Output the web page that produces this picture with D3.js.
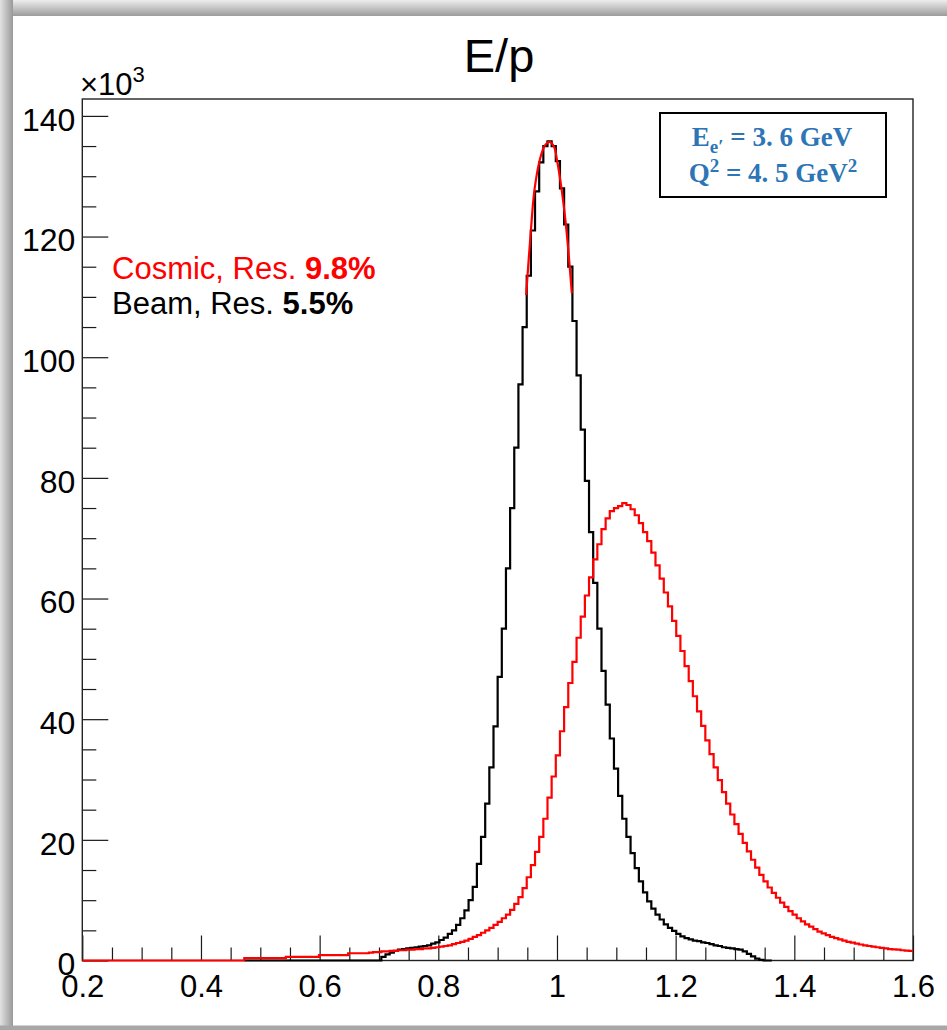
<!DOCTYPE html>
<html>
<head>
<meta charset="utf-8">
<script src="https://cdn.jsdelivr.net/npm/d3@7"></script>
<style>
  html, body { margin: 0; padding: 0; background: #fff; }
  svg { display: block; }
</style>
</head>
<body>
<svg id="chart" width="947" height="1030"></svg>
<script>
// E/p distributions, bin contents in units of 10^3 entries
const xMin = 0.2, xMax = 1.6, binWidth = 0.007;
const yMax = 142.8;

const xTickLabels = [0.2, 0.4, 0.6, 0.8, 1.0, 1.2, 1.4, 1.6];
const yTickLabels = [0, 20, 40, 60, 80, 100, 120, 140];

// Cosmic-calibrated sample (red), bins 0..199
const cosmicFirstBin = 0;
const cosmicCounts = [
  0,0,0,0,0,0,0,0,0,0,
  0,0,0,0,0,0,0,0,0,0,
  0,0,0,0,0,0,0,0,0,0,
  0,0,0,0,0,0,0,0,0,
  0.4,0.4,0.4,0.4,0.4,0.4,0.4,0.4,0.4,0.4,
  0.6,0.6,0.6,0.6,0.6,0.6,0.6,0.6,
  0.9,0.9,0.9,0.9,0.9,0.9,0.9,
  1.2,1.2,1.2,1.2,1.2,
  1.3,1.4,1.4,1.5,1.5,1.6,1.6,1.7,1.7,1.8,
  1.8,1.9,1.9,2.0,2.0,2.1,2.2,2.3,2.4,2.5,
  2.7,2.9,3.1,3.3,3.6,3.9,4.2,4.6,5.0,5.4,
  5.9,6.4,7.0,7.6,8.4,9.4,10.5,12.0,13.8,15.8,
  18.0,20.5,23.5,27.0,30.5,34.0,38.0,42.0,46.0,49.5,
  53.5,57.0,60.5,63.5,66.5,69.0,71.5,73.3,74.5,75.0,
  75.3,75.8,75.5,74.8,73.8,72.5,71.0,69.5,67.6,65.5,
  63.3,61.0,58.7,56.3,53.8,51.3,48.8,46.3,43.8,41.3,
  38.9,36.5,34.2,32.0,29.9,27.9,26.0,24.2,22.6,21.0,
  19.5,18.1,16.7,15.4,14.2,13.1,12.1,11.2,10.4,9.6,
  8.9,8.2,7.6,7.0,6.5,6.0,5.6,5.2,4.8,4.5,
  4.2,3.9,3.7,3.5,3.3,3.1,2.95,2.8,2.65,2.5,
  2.4,2.3,2.2,2.1,2.0,1.9,1.85,1.8,1.7,1.65,
  1.6
];

// Beam sample (black), bins 39..165
const beamFirstBin = 39;
const beamCounts = [
  0,0,0,0,0,0,0,0,0,0,
  0,0,0,0,0,0,0,0,0,0,
  0,0,0,0,0,0,0,0,0,0,
  0,0,0,
  0.6,1.0,1.3,1.6,1.8,1.9,2.0,2.1,2.2,2.3,
  2.4,2.5,2.8,3.0,3.4,3.8,4.4,5.0,5.9,7.0,
  8.3,10.0,12.2,16.0,20.5,26.0,32.0,38.8,47.0,55.0,
  65.0,75.0,85.0,95.5,105.0,113.5,121.0,127.5,132.3,135.0,
  135.8,135.0,132.5,128.0,122.0,115.0,106.0,97.0,88.0,79.5,
  71.0,62.6,55.0,48.0,42.4,36.8,31.8,27.3,23.5,20.5,
  17.8,15.3,13.1,11.3,9.8,8.6,7.6,6.8,6.0,5.4,
  4.9,4.4,4.0,3.7,3.5,3.3,3.2,3.0,2.9,2.7,
  2.5,2.4,2.2,2.1,2.0,1.9,1.8,1.5,1.1,0.7,
  0.3,0.1,0,0
];

// Gaussian fit over the beam peak, sampled along the curve
const beamFitX = [0.948, 0.956, 0.962, 0.971, 0.979, 0.987, 0.995, 1.000, 1.008, 1.016, 1.025];
const beamFitY = [110.3, 121.0, 127.7, 132.7, 135.0, 135.7, 134.9, 132.7, 127.7, 121.0, 110.6];

const legendLabels = ["Cosmic, Res. ", "Beam, Res. "];
const legendRes = ["9.8%", "5.5%"];
const legendColors = ["#ff0000", "#000000"];

// ---- layout ----
const W = 947, H = 1030;
const frame = { left: 82.3, right: 913, top: 99, bottom: 960.5 };
const font = "'Liberation Sans', Arial, Helvetica, sans-serif";

const svg = d3.select("#chart");

// soft grey picture border
const defs = svg.append("defs");
const gTop = defs.append("linearGradient").attr("id", "bTop").attr("x1", 0).attr("y1", 0).attr("x2", 0).attr("y2", 1);
gTop.append("stop").attr("offset", "0%").attr("stop-color", "#ededed");
gTop.append("stop").attr("offset", "100%").attr("stop-color", "#9c9c9c");
const gLeft = defs.append("linearGradient").attr("id", "bLeft").attr("x1", 0).attr("y1", 0).attr("x2", 1).attr("y2", 0);
gLeft.append("stop").attr("offset", "0%").attr("stop-color", "#e2e2e2");
gLeft.append("stop").attr("offset", "100%").attr("stop-color", "#999999");

svg.append("rect").attr("x", 0).attr("y", 0).attr("width", W).attr("height", H).attr("fill", "#fff");
svg.append("rect").attr("x", 0).attr("y", 0).attr("width", W).attr("height", 16).attr("fill", "url(#bTop)");
svg.append("rect").attr("x", 0).attr("y", 0).attr("width", 13).attr("height", H).attr("fill", "url(#bLeft)");
svg.append("rect").attr("x", 0).attr("y", 1025.5).attr("width", W).attr("height", 4.5).attr("fill", "#a7a7a7");

// ---- scales ----
const x = d3.scaleLinear().domain([xMin, xMax]).range([frame.left, frame.right]);
const y = d3.scaleLinear().domain([0, yMax]).range([frame.bottom, frame.top]);

// ---- axes ----
const minorX = d3.range(xMin, xMax + 1e-9, 0.05).filter(v => !xTickLabels.some(t => Math.abs(t - v) < 1e-6));
const minorY = d3.range(0, yMax, 5).filter(v => v % 20 !== 0);

const axisColor = "#1a1a1a";

const gxMinor = svg.append("g").attr("transform", `translate(0,${frame.bottom})`)
  .call(d3.axisBottom(x).tickValues(minorX).tickSize(-13).tickFormat(""));
const gx = svg.append("g").attr("transform", `translate(0,${frame.bottom})`)
  .call(d3.axisBottom(x).tickValues(xTickLabels).tickSize(-25).tickFormat(d3.format("~g")));
const gyMinor = svg.append("g").attr("transform", `translate(${frame.left},0)`)
  .call(d3.axisLeft(y).tickValues(minorY).tickSize(-14).tickFormat(""));
const gy = svg.append("g").attr("transform", `translate(${frame.left},0)`)
  .call(d3.axisLeft(y).tickValues(yTickLabels).tickSize(-26).tickPadding(7).tickFormat(d3.format("d")));

[gxMinor, gx, gyMinor, gy].forEach(g => {
  g.select(".domain").remove();
  g.selectAll(".tick line").attr("stroke", axisColor).attr("stroke-width", 1.2);
});
gx.selectAll("text")
  .attr("y", 36).attr("dy", 0)
  .attr("font-family", font).attr("font-size", 31).attr("fill", "#000");
gy.selectAll("text")
  .attr("dy", "0.45em")
  .attr("font-family", font).attr("font-size", 32).attr("fill", "#000");

// frame
svg.append("rect")
  .attr("x", frame.left).attr("y", frame.top)
  .attr("width", frame.right - frame.left).attr("height", frame.bottom - frame.top)
  .attr("fill", "none").attr("stroke", "#222").attr("stroke-width", 1.4);

// exponent label
const expo = svg.append("text")
  .attr("x", 80).attr("y", 95)
  .attr("font-family", font).attr("font-size", 31).attr("fill", "#000");
expo.append("tspan").text("\u00d710");
expo.append("tspan").attr("font-size", 22).attr("dy", -13).text("3");

// title
svg.append("text")
  .attr("x", 499).attr("y", 72).attr("text-anchor", "middle")
  .attr("font-family", font).attr("font-size", 47).attr("fill", "#000")
  .text("E/p");

// ---- histograms ----
function histPoints(counts, firstBin) {
  const pts = counts.map((v, i) => [xMin + (firstBin + i) * binWidth, v]);
  pts.push([xMin + (firstBin + counts.length) * binWidth, counts[counts.length - 1]]);
  return pts;
}
const stepLine = d3.line()
  .x(d => x(d[0])).y(d => y(d[1]))
  .curve(d3.curveStepAfter);

svg.append("path")
  .attr("d", stepLine(histPoints(beamCounts, beamFirstBin)))
  .attr("fill", "none").attr("stroke", "#000").attr("stroke-width", 2.2)
  .attr("stroke-linejoin", "miter");

svg.append("path")
  .attr("d", stepLine(histPoints(cosmicCounts, cosmicFirstBin)))
  .attr("fill", "none").attr("stroke", "#ff0000").attr("stroke-width", 2.2)
  .attr("stroke-linejoin", "miter");

const fitLine = d3.line()
  .x((d, i) => x(beamFitX[i])).y(d => y(d))
  .curve(d3.curveCatmullRom.alpha(0.5));
svg.append("path")
  .attr("d", fitLine(beamFitY))
  .attr("fill", "none").attr("stroke", "#ff0000").attr("stroke-width", 2.2);

// ---- legend text ----
legendLabels.forEach((lab, i) => {
  const t = svg.append("text")
    .attr("x", 112).attr("y", 279 + i * 35)
    .attr("font-family", font).attr("font-size", 31).attr("fill", legendColors[i]);
  t.append("tspan").text(lab);
  t.append("tspan").attr("font-weight", "bold").text(legendRes[i]);
});

// ---- kinematics box ----
const boxColor = "#2e75b6";
const serif = "'Liberation Serif', 'DejaVu Serif', serif";
svg.append("rect")
  .attr("x", 660).attr("y", 113).attr("width", 226).attr("height", 84)
  .attr("fill", "#fff").attr("stroke", "#000").attr("stroke-width", 2);

const l1 = svg.append("text")
  .attr("x", 772).attr("y", 146).attr("text-anchor", "middle")
  .attr("font-family", serif).attr("font-weight", "bold")
  .attr("font-size", 27).attr("fill", boxColor);
l1.append("tspan").text("E");
l1.append("tspan").attr("font-size", 19).attr("dy", 7).text("e\u2032");
l1.append("tspan").attr("dy", -7).text(" = 3. 6 GeV");

const l2 = svg.append("text")
  .attr("x", 773).attr("y", 182).attr("text-anchor", "middle")
  .attr("font-family", serif).attr("font-weight", "bold")
  .attr("font-size", 27).attr("fill", boxColor);
l2.append("tspan").text("Q");
l2.append("tspan").attr("font-size", 19).attr("dy", -10).text("2");
l2.append("tspan").attr("dy", 10).text(" = 4. 5 GeV");
l2.append("tspan").attr("font-size", 19).attr("dy", -10).text("2");
</script>
</body>
</html>
